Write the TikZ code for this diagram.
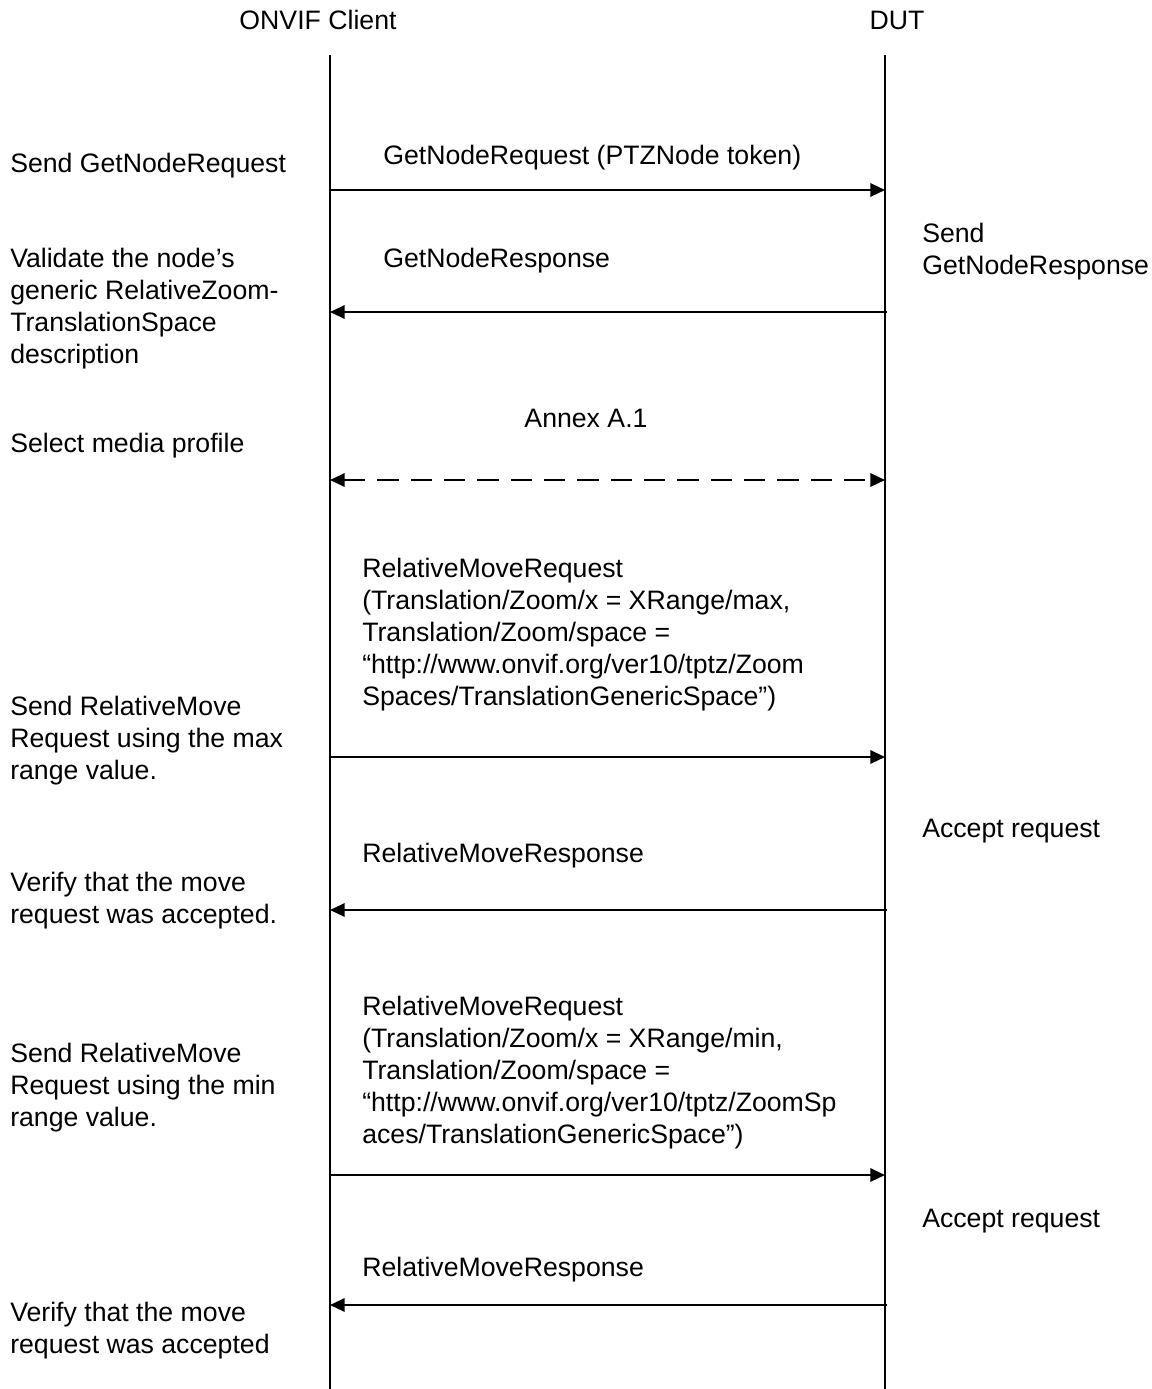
\documentclass[tikz,border=0pt]{standalone}
\usepackage{fontspec}
\setmainfont{Liberation Sans}
\usetikzlibrary{arrows.meta}

\begin{document}
\begin{tikzpicture}[
  x=0.75pt,y=-0.75pt,
  actor/.style={font=\fontsize{20}{24}\selectfont, inner sep=0pt, anchor=base},
  step note/.style={font=\fontsize{20}{24}\selectfont, align=left, inner sep=0pt, anchor=base west},
  lifeline/.style={line width=0.8pt},
  msg/.style={line width=1.6pt, -{Triangle[length=11pt,width=10pt]}},
  annex/.style={msg, {Triangle[length=11pt,width=10pt]}-{Triangle[length=11pt,width=10pt]}, dash pattern=on 16pt off 9pt}
]
\useasboundingbox (0,0) rectangle (1152,1389);

\node[actor] (client) at (318,29) {ONVIF Client};
\node[actor] (dut)    at (897,29) {DUT};

\coordinate (ctop) at (330,55);
\coordinate (cbot) at (330,1389);
\coordinate (dtop) at (885,55);
\coordinate (dbot) at (885,1389);
\draw[lifeline] (ctop) -- (cbot);
\draw[lifeline] (dtop) -- (dbot);

% client side steps (y = baseline of last line)
\node[step note] (s1) at (10,172)  {Send GetNodeRequest};
\node[step note] (s2) at (10,363)  {Validate the node’s\\generic RelativeZoom-\\TranslationSpace\\description};
\node[step note] (s3) at (10,452)  {Select media profile};
\node[step note] (s4) at (10,779)  {Send RelativeMove\\Request using the max\\range value.};
\node[step note] (s5) at (10,923)  {Verify that the move\\request was accepted.};
\node[step note] (s6) at (10,1126) {Send RelativeMove\\Request using the min\\range value.};
\node[step note] (s7) at (10,1353) {Verify that the move\\request was accepted};

% DUT side steps
\node[step note] (r1) at (922,274)  {Send\\GetNodeResponse};
\node[step note] (r2) at (922,837)  {Accept request};
\node[step note] (r3) at (922,1227) {Accept request};

% messages
\node[step note] (m1) at (383,164)  {GetNodeRequest (PTZNode token)};
\node[step note] (m2) at (383,267)  {GetNodeResponse};
\node[actor]     (m3) at (586,427)  {Annex A.1};
\node[step note] (m4) at (362,705)  {RelativeMoveRequest\\(Translation/Zoom/x = XRange/max,\\Translation/Zoom/space =\\“http://www.onvif.org/ver10/tptz/Zoom\\Spaces/TranslationGenericSpace”)};
\node[step note] (m5) at (362,862)  {RelativeMoveResponse};
\node[step note] (m6) at (362,1143) {RelativeMoveRequest\\(Translation/Zoom/x = XRange/min,\\Translation/Zoom/space =\\“http://www.onvif.org/ver10/tptz/ZoomSp\\aces/TranslationGenericSpace”)};
\node[step note] (m7) at (362,1276) {RelativeMoveResponse};

\coordinate (c1) at (330,190);  \coordinate (d1) at (885,190);
\coordinate (c2) at (330,312);  \coordinate (d2) at (887,312);
\coordinate (c3) at (330,480);  \coordinate (d3) at (885,480);
\coordinate (c4) at (330,757);  \coordinate (d4) at (885,757);
\coordinate (c5) at (330,910);  \coordinate (d5) at (887,910);
\coordinate (c6) at (330,1175); \coordinate (d6) at (885,1175);
\coordinate (c7) at (330,1305); \coordinate (d7) at (887,1305);

\draw[msg]   (c1) -- (d1);
\draw[msg]   (d2) -- (c2);
\draw[annex] (c3) -- (d3);
\draw[msg]   (c4) -- (d4);
\draw[msg]   (d5) -- (c5);
\draw[msg]   (c6) -- (d6);
\draw[msg]   (d7) -- (c7);
\end{tikzpicture}
\end{document}
